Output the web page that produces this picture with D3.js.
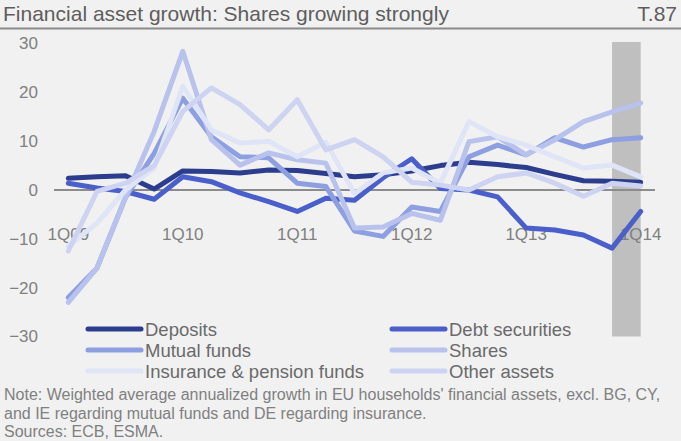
<!DOCTYPE html>
<html><head><meta charset="utf-8">
<script src="https://cdn.jsdelivr.net/npm/d3@7/dist/d3.min.js"></script>
<style>
html,body{margin:0;padding:0;background:#f1f1f1;}
svg{display:block;font-family:"Liberation Sans",Arial,sans-serif;}
</style></head>
<body><svg id="c" width="681" height="441"></svg>
<script>
const quarters = ["1Q09","2Q09","3Q09","4Q09","1Q10","2Q10","3Q10","4Q10","1Q11","2Q11","3Q11","4Q11","1Q12","2Q12","3Q12","4Q12","1Q13","2Q13","3Q13","4Q13","1Q14"];
const tickLabels = ["1Q09","1Q10","1Q11","1Q12","1Q13","1Q14"];
const yTicks = [30,20,10,0,-10,-20,-30];
const deposits   = [2.4,2.7,2.9,0.2,3.9,3.8,3.5,4.1,4.0,3.4,2.7,3.1,3.9,5.0,5.7,5.2,4.6,3.2,1.9,1.8,1.6];
const debt       = [1.4,0.4,-0.3,-1.9,2.7,1.7,-0.6,-2.4,-4.4,-1.7,-2.1,2.5,6.4,0.3,0.0,-1.4,-7.8,-8.2,-9.2,-11.9,-4.4];
const mutual     = [-22,-16,-1.5,7.5,18.8,10.9,6.8,6.6,1.4,0.7,-8.4,-9.5,-3.5,-4.4,6.8,9.2,7.2,10.7,8.8,10.3,10.7];
const shares     = [-23,-16,-1.5,12,28.4,10.3,5.1,7.6,6.2,5.5,-7.8,-7.6,-4.8,-6.2,9.9,10.9,7.2,10.3,14,16,17.8];
const insurance  = [-11.5,-6.8,0,4.5,21.2,12.3,9.6,10.0,6.8,9.8,-0.7,3.5,4.5,1.4,14,10.9,9.2,6.8,4.5,5.1,2.7];
const other      = [-12.5,-0.3,1.4,5,16.1,20.9,17.5,12.3,18.5,8.2,10.3,6.8,1.6,1.0,0,2.7,3.5,1.4,-1.3,1.4,0.8];
const seriesNames = ["Deposits","Debt securities","Mutual funds","Shares","Insurance & pension funds","Other assets"];
const seriesData = [deposits,debt,mutual,shares,insurance,other];
const colors = ["#2c3d8d","#4a5fc9","#8d9fe0","#b8c2ec","#dfe4f7","#cdd3f0"];
const highlight = ["4Q13","1Q14"];

const svg = d3.select("#c");
const x = d3.scaleBand().domain(quarters).range([54,655]);
const xc = q => x(q) + x.bandwidth()/2;
const y = d3.scaleLinear().domain([-30,30]).range([336.5,43.5]);

// title
svg.append("text").attr("x",3).attr("y",21).attr("font-size",21).attr("fill","#5e5e5e").text("Financial asset growth: Shares growing strongly");
svg.append("text").attr("x",677).attr("y",21).attr("text-anchor","end").attr("font-size",21).attr("fill","#5e5e5e").text("T.87");
svg.append("line").attr("x1",0).attr("x2",681).attr("y1",28.5).attr("y2",28.5).attr("stroke","#8a8a8a").attr("stroke-width",2);

// highlight band
svg.append("rect").attr("x",xc(highlight[0])).attr("width",xc(highlight[1])-xc(highlight[0]))
  .attr("y",y(30)-1.5).attr("height",y(-30)-y(30)+1.5).attr("fill","#bfbfbf");

// y axis
const ya = svg.append("g").attr("transform","translate(38,0)").call(d3.axisLeft(y).tickValues(yTicks).tickSize(0).tickPadding(0).tickFormat(d3.format("d")));
ya.select(".domain").remove();
ya.selectAll("text").attr("font-size",17).attr("fill","#808080").attr("font-family","Liberation Sans, Arial, sans-serif");

// zero line
svg.append("line").attr("x1",x.range()[0]).attr("x2",x.range()[1]).attr("y1",y(0)).attr("y2",y(0)).attr("stroke","#8c8c8c").attr("stroke-width",2);

// x axis labels
const xa = svg.append("g").attr("transform",`translate(0,${y(-10)-11})`).call(d3.axisBottom(x).tickValues(tickLabels).tickSize(0).tickPadding(0));
xa.select(".domain").remove();
xa.selectAll("text").attr("font-size",17).attr("fill","#808080").attr("font-family","Liberation Sans, Arial, sans-serif");

// lines
const line = d3.line().x((d,i)=>xc(quarters[i])).y(d=>y(d));
seriesData.forEach((s,k)=>{
  svg.append("path").datum(s).attr("d",line).attr("fill","none").attr("stroke",colors[k])
    .attr("stroke-width",5).attr("stroke-linejoin","round").attr("stroke-linecap","round");
});

// legend
const legX = [88,392], legY = [329,350,371];
seriesNames.forEach((n,k)=>{
  const col = k%2, row = Math.floor(k/2);
  const g = svg.append("g").attr("transform",`translate(${legX[col]},${legY[row]})`);
  g.append("line").attr("x1",0).attr("x2",53).attr("stroke",colors[k]).attr("stroke-width",5).attr("stroke-linecap","round");
  g.append("text").attr("x",57).attr("y",6.5).attr("font-size",18.5).attr("fill","#6a6a6a").text(n);
});

// note
const notes = ["Note: Weighted average annualized growth in EU households' financial assets, excl. BG, CY,",
 "and IE regarding mutual funds and DE regarding insurance.","Sources: ECB, ESMA."];
notes.forEach((t,i)=>svg.append("text").attr("x",4).attr("y",400+i*18.7).attr("font-size",16).attr("fill","#808080").text(t));
</script></body></html>
